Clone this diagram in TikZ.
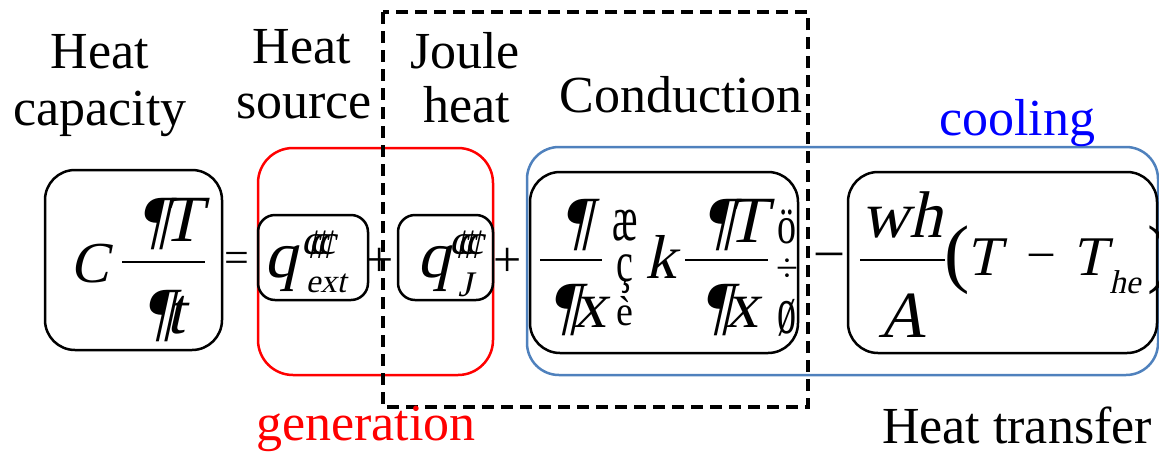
\documentclass[tikz,border=0pt]{standalone}
\usepackage{graphicx}
\usepackage{fontspec}
\setmainfont{Liberation Serif}
\newfontfamily\slantserif{Liberation Serif}[FakeSlant=0.22]
\usetikzlibrary{positioning}
\definecolor{coolblue}{RGB}{79,129,189}
\tikzset{
  lbl/.style={anchor=base, inner sep=0pt, font=\fontsize{52}{58}\selectfont},
  mth/.style={anchor=base, inner sep=0pt, font=\fontsize{#1}{#1}\selectfont\slantserif},
  mth/.default=66,
  opr/.style={inner sep=0pt, font=\fontsize{#1}{#1}\selectfont},
  termbox/.style={draw, line width=2.5pt, rounded corners=#1},
  termbox/.default=30pt,
  fbar/.style={line width=2.5pt},
}
\newcommand{\tallglyph}[2]{\scalebox{1}[#1]{#2}}
\newcommand{\primes}{¢\kern-.3em¢\kern-.3em¢}

\begin{document}
\begin{tikzpicture}[x=1pt, y=-1pt]
    \useasboundingbox (0,0) rectangle (1159,456);
    \clip (0,0) rectangle (1159,456);
    % group frames
    \draw[red, termbox=35pt] (258,148) rectangle (493,375);
    \draw[coolblue, termbox=32pt] (527,147) rectangle (1158,375);
    \draw[line width=4.5pt, dash pattern=on 12pt off 7pt] (383,12) rectangle (808,407);
    % term frames
    \draw[termbox] (45,170) rectangle (222,350);
    \draw[termbox=17pt] (258,215) rectangle (368,300);
    \draw[termbox=17pt] (398,215) rectangle (493,300);
    \draw[termbox] (530,172) rectangle (798,353);
    \draw[termbox] (848,172) rectangle (1157,353);

    % heat capacity term
    \node[mth=58] (cap) at (90,282) {C};
    \draw[fbar] (122,262) -- (205,262);
    \node[mth] (capnum) at (170,241) {¶\kern-.1em T};
    \node[mth] (capden) at (164,333) {¶\kern-.1em t};
    \node[opr=44] (eq) at (237,262) {=};
    % source terms
    \node[mth] (qext) at (281,277) {q};
    \node[mth=42] (qextp) at (318,258) {\primes};
    \node[mth=33] (qexts) at (326,292) {ext};
    \node[opr=50] (plusa) at (380,262) {+};
    \node[mth] (qj) at (434,277) {q};
    \node[mth=42] (qjp) at (466,258) {\primes};
    \node[mth=36] (qjs) at (465,296) {J};
    \node[opr=50] (plusb) at (508,262) {+};
    % conduction term
    \draw[fbar] (540,260) -- (602,260);
    \node[mth] (dnum) at (576,242) {¶};
    \node[mth] (dden) at (578,327) {¶\kern-.1em x};
    \node[opr=38, anchor=base] (lpa) at (625,240) {\tallglyph{1.7}{æ}};
    \node[opr=38, anchor=base] (lpb) at (625,281) {\tallglyph{1.5}{ç}};
    \node[opr=38, anchor=base] (lpc) at (625,325) {\tallglyph{1.1}{è}};
    \node[mth=62] (kk) at (661,278) {k};
    \draw[fbar] (685,260) -- (768,260);
    \node[mth] (cnum) at (735,242) {¶\kern-.1em T};
    \node[mth] (cden) at (730,327) {¶\kern-.1em x};
    \node[opr=38, anchor=base] (rpa) at (787,243) {\tallglyph{1.4}{ö}};
    \node[opr=40] (rpb) at (787,270) {÷};
    \node[opr=38, anchor=base] (rpc) at (787,333) {\tallglyph{1.8}{ø}};
    \node[opr=52] (minus) at (829,260) {–};
    % heat transfer term
    \draw[fbar] (860,260) -- (945,260);
    \node[mth] (whn) at (902,237) {wh};
    \node[mth] (wha) at (902,337) {A};
    \node[opr=76] (lpar) at (957,260) {(};
    \node[mth=56] (tt) at (984,275) {T};
    \node[opr=48] (minusb) at (1041,260) {–};
    \node[mth=56] (the) at (1090,275) {T};
    \node[mth=33] (thes) at (1125,293) {he};
    \node[opr=76] (rpar) at (1160,260) {)};

    % labels
    \node[lbl] (capH) at (100,68) {Heat};
    \node[lbl] (capC) at (100,125) {capacity};
    \node[lbl] (srcH) at (302,63) {Heat};
    \node[lbl] (srcS) at (304,118) {source};
    \node[lbl] (jouJ) at (465,68) {Joule};
    \node[lbl] (jouH) at (467,122) {heat};
    \node[lbl] (cond) at (681,112) {Conduction};
    \node[lbl, blue] (cool) at (1017,135) {cooling};
    \node[lbl, red] (gen) at (366,440) {generation};
    \node[lbl] (trans) at (1017,443) {Heat transfer};
\end{tikzpicture}
\end{document}
